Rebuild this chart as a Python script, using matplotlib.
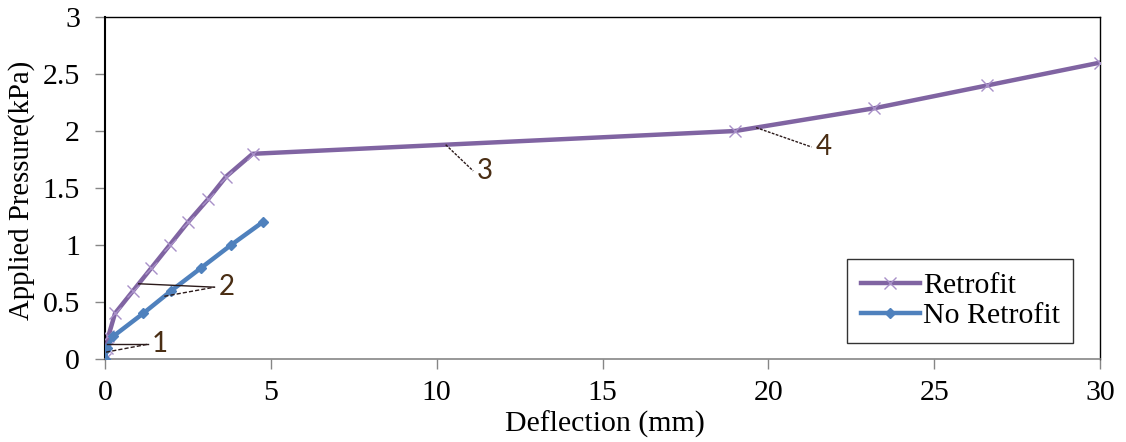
import numpy as np
import matplotlib.pyplot as plt
from matplotlib.ticker import FuncFormatter, MultipleLocator

# load-deflection readings (mm, kPa)
retrofit_defl = [0, 0.05, 0.1, 0.3, 0.85, 1.4, 1.95, 2.5, 3.1, 3.65, 4.45, 19.0, 23.2, 26.6, 30.0]
retrofit_pres = [0, 0.1, 0.2, 0.4, 0.6, 0.8, 1.0, 1.2, 1.4, 1.6, 1.8, 2.0, 2.2, 2.4, 2.6]
plain_defl = [0, 0.05, 0.25, 1.15, 2.0, 2.9, 3.8, 4.75]
plain_pres = [0, 0.1, 0.2, 0.4, 0.6, 0.8, 1.0, 1.2]

# stage markers: label, pressure on the curves where the leader starts
stage_labels = ["1", "2", "3", "4"]
stage_retro_p = [0.13, 0.66, 1.88, 2.03]
stage_plain_p = [0.06, 0.55, None, None]
stage_text_xy = [(1.3, 0.13), (3.3, 0.63), (11.1, 1.65), (21.3, 1.86)]

purple = "#8064A2"
blue = "#4F81BD"
serif = "Liberation Serif"
fs = 21.5

plt.rcParams["font.family"] = serif
fig = plt.figure(figsize=(11.26, 4.42), dpi=100)
ax = fig.add_axes([0.0933, 0.1878, 0.8836, 0.7737])

ax.plot(retrofit_defl, retrofit_pres, color=purple, lw=3.2, marker="x",
        ms=8, mew=1.0, mec="#a890c8", label="Retrofit", zorder=3)
ax.plot(plain_defl, plain_pres, color=blue, lw=3.2, marker="D",
        ms=5, label="No Retrofit", zorder=3)

lead = "#2b1a1a"
for lab, rp, pp, (tx, ty) in zip(stage_labels, stage_retro_p, stage_plain_p, stage_text_xy):
    rx = np.interp(rp, retrofit_pres, retrofit_defl)
    ls = "-" if pp is not None else (0, (2, 1))
    ax.plot([rx, tx], [rp, ty], color=lead, lw=1.0, ls=ls, zorder=4)
    if pp is not None:
        px = np.interp(pp, plain_pres, plain_defl)
        ax.plot([px, tx], [pp, ty], color=lead, lw=1.0, ls=(0, (3, 1.5)), zorder=4)
    ax.text(tx + 0.12, ty, lab, family="Lato", fontsize=20, color="#4a2e14",
            ha="left", va="center", zorder=5)

ax.set_xlim(0, 30)
ax.set_ylim(0, 3)
ax.xaxis.set_major_locator(MultipleLocator(5))
ax.yaxis.set_major_locator(MultipleLocator(0.5))
ax.yaxis.set_major_formatter(FuncFormatter(lambda v, p: "%g" % v))
ax.tick_params(direction="out", length=7, width=1, color="#868686",
               labelsize=fs)
ax.tick_params(axis="y", pad=11)
ax.tick_params(axis="x", pad=8)

for s in ["top", "right", "left"]:
    ax.spines[s].set_color("black")
    ax.spines[s].set_linewidth(1.0)
ax.spines["left"].set_linewidth(1.5)
ax.spines["bottom"].set_color("#868686")
ax.spines["bottom"].set_linewidth(1.2)

ax.set_xlabel("Deflection (mm)", fontsize=fs)
ax.set_ylabel("Applied Pressure(kPa)", fontsize=20.7)
ax.xaxis.set_label_coords(0.5025, -0.152)
ax.yaxis.set_label_coords(-0.0705, 0.494)

leg = ax.legend(loc="lower right", bbox_to_anchor=(0.973, 0.047),
                fontsize=fs, frameon=True, fancybox=False, handlelength=2.0,
                handletextpad=0.08, borderpad=0.45, labelspacing=0.12,
                borderaxespad=0)
leg.get_frame().set_edgecolor("black")
leg.get_frame().set_linewidth(1.0)

fig.savefig("out.png", dpi=100)
